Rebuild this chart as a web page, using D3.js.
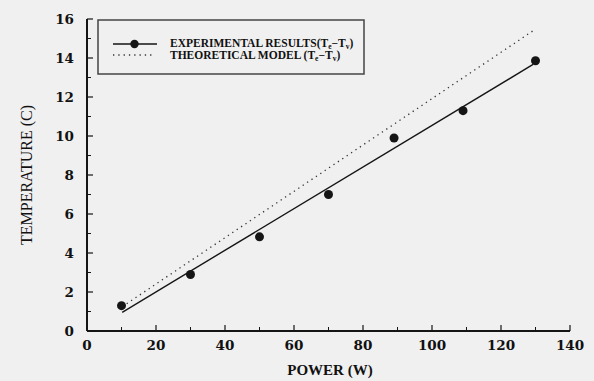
<!DOCTYPE html>
<html>
<head>
<meta charset="utf-8">
<script src="https://cdn.jsdelivr.net/npm/d3@7"></script>
<style>
  body { margin: 0; background: #f0f0f0; }
  svg { display: block; }
  text { font-family: 'Liberation Serif', 'DejaVu Serif', serif; fill: #111; }
</style>
</head>
<body>
<script>
// measured points
const powerW = [10, 30, 50, 70, 89, 109, 130];
const tempC = [1.3, 2.9, 4.83, 7.0, 9.9, 11.3, 13.86];
// fitted line through the experimental results
const fitX = [10.2, 129.3];
const fitY = [0.96, 13.67];
// theoretical model line
const modelX = [11.5, 130];
const modelY = [1.4, 15.48];

const xTicks = [0, 20, 40, 60, 80, 100, 120, 140];
const yTicks = [0, 2, 4, 6, 8, 10, 12, 14, 16];

const width = 594, height = 381;
const margin = { left: 87, right: 24, top: 19, bottom: 50 };

const svg = d3.select('body').append('svg')
  .attr('width', width)
  .attr('height', height);

const x = d3.scaleLinear().domain([0, 140]).range([margin.left, width - margin.right]);
const y = d3.scaleLinear().domain([0, 16]).range([height - margin.bottom, margin.top]);

const ink = '#151515';
const tickFont = "'DejaVu Serif', serif";

// axes: major ticks point inward, minor ticks halfway
const gx = svg.append('g').attr('transform', `translate(0,${y(0)})`);
gx.append('line').attr('x1', x(0)).attr('x2', x(140)).attr('stroke', ink).attr('stroke-width', 2);
gx.selectAll('.maj').data(xTicks).enter().append('line')
  .attr('x1', d => x(d)).attr('x2', d => x(d)).attr('y1', 0).attr('y2', -6)
  .attr('stroke', ink).attr('stroke-width', 1.2);
gx.selectAll('.min').data(d3.range(10, 140, 20)).enter().append('line')
  .attr('x1', d => x(d)).attr('x2', d => x(d)).attr('y1', 0).attr('y2', -4)
  .attr('stroke', ink).attr('stroke-width', 1);
gx.selectAll('.lab').data(xTicks).enter().append('text')
  .attr('x', d => x(d)).attr('y', 19)
  .attr('text-anchor', 'middle')
  .style('font-family', tickFont)
  .style('font-size', '13.5px').style('font-weight', 'bold')
  .text(d => d);

const gy = svg.append('g').attr('transform', `translate(${x(0)},0)`);
gy.append('line').attr('y1', y(0)).attr('y2', y(16)).attr('stroke', ink).attr('stroke-width', 2);
gy.selectAll('.maj').data(yTicks).enter().append('line')
  .attr('y1', d => y(d)).attr('y2', d => y(d)).attr('x1', 0).attr('x2', 6)
  .attr('stroke', ink).attr('stroke-width', 1.2);
gy.selectAll('.min').data(d3.range(1, 16, 2)).enter().append('line')
  .attr('y1', d => y(d)).attr('y2', d => y(d)).attr('x1', 0).attr('x2', 4)
  .attr('stroke', ink).attr('stroke-width', 1);
gy.selectAll('.lab').data(yTicks).enter().append('text')
  .attr('x', -13).attr('y', d => y(d) + 5)
  .attr('text-anchor', 'end')
  .style('font-family', tickFont)
  .style('font-size', '13.5px').style('font-weight', 'bold')
  .text(d => d);

// axis titles
svg.append('text')
  .attr('x', 330).attr('y', 375)
  .attr('text-anchor', 'middle')
  .style('font-size', '15px').style('font-weight', 'bold')
  .text('POWER (W)');
svg.append('text')
  .attr('transform', `translate(32,${(y(0) + y(16)) / 2}) rotate(-90)`)
  .attr('text-anchor', 'middle')
  .style('font-size', '16px')
  .text('TEMPERATURE (C)');

// lines
const line = d3.line().x(d => x(d[0])).y(d => y(d[1]));
svg.append('path')
  .attr('d', line(d3.zip(modelX, modelY)))
  .attr('fill', 'none').attr('stroke', '#333').attr('stroke-width', 1.3)
  .attr('stroke-dasharray', '1.3,4');
svg.append('path')
  .attr('d', line(d3.zip(fitX, fitY)))
  .attr('fill', 'none').attr('stroke', ink).attr('stroke-width', 1.4);

svg.selectAll('.pt').data(d3.zip(powerW, tempC)).enter().append('circle')
  .attr('cx', d => x(d[0])).attr('cy', d => y(d[1])).attr('r', 4.5)
  .attr('fill', ink);

// legend
const lg = svg.append('g');
lg.append('rect').attr('x', 98).attr('y', 20).attr('width', 266).attr('height', 54)
  .attr('fill', 'none').attr('stroke', '#444').attr('stroke-width', 1.5);
lg.append('line').attr('x1', 113).attr('x2', 157).attr('y1', 44).attr('y2', 44)
  .attr('stroke', ink).attr('stroke-width', 1.4);
lg.append('circle').attr('cx', 134.5).attr('cy', 44).attr('r', 4.2).attr('fill', ink);
lg.append('line').attr('x1', 113).attr('x2', 153).attr('y1', 55).attr('y2', 55)
  .attr('stroke', '#333').attr('stroke-width', 1.3).attr('stroke-dasharray', '1.3,4');

const labels = ['EXPERIMENTAL RESULTS', 'THEORETICAL MODEL '];
labels.forEach((lbl, i) => {
  const t = lg.append('text')
    .attr('x', 170).attr('y', 47 + i * 12)
    .style('font-size', '11.5px').style('font-weight', 'bold');
  t.append('tspan').text(lbl + '(T');
  t.append('tspan').attr('dy', 1.5).style('font-size', '7.5px').text('e');
  t.append('tspan').attr('dy', -1.5).text('\u2212T');
  t.append('tspan').attr('dy', 1.5).style('font-size', '7.5px').text('v');
  t.append('tspan').attr('dy', -1.5).text(')');
});
</script>
</body>
</html>
